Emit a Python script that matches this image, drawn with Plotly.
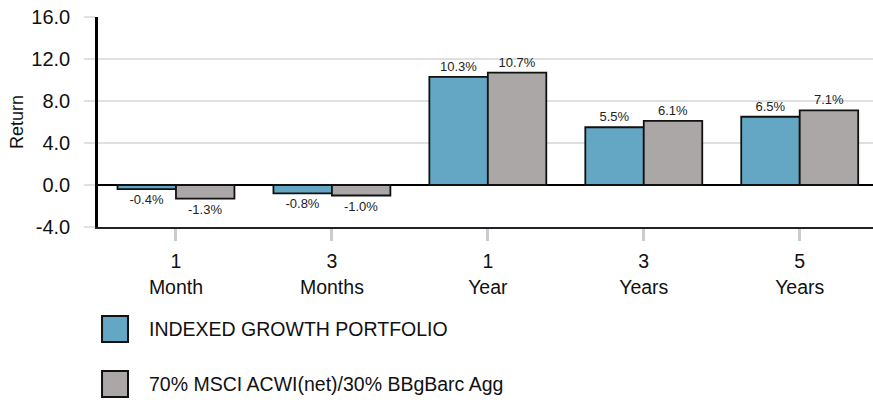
import plotly.graph_objects as go

categories = ["1<br>Month", "3<br>Months", "1<br>Year", "3<br>Years", "5<br>Years"]
series_names = ["INDEXED GROWTH PORTFOLIO", "70% MSCI ACWI(net)/30% BBgBarc Agg"]
portfolio = [-0.4, -0.8, 10.3, 5.5, 6.5]
benchmark = [-1.3, -1.0, 10.7, 6.1, 7.1]
y_ticks = [-4, 0, 4, 8, 12, 16]
y_tick_labels = ["-4.0", "0.0", "4.0", "8.0", "12.0", "16.0"]

colors = ["#63A7C4", "#ABA7A6"]
regular = "Liberation Sans, Arial"

fig = go.Figure()
for name, vals, col in zip(series_names, [portfolio, benchmark], colors):
    fig.add_trace(go.Bar(
        x=categories, y=vals, name=name,
        marker=dict(color=col, line=dict(color="#111111", width=1.8)),
        text=[f"{v:.1f}%" for v in vals], textposition="outside",
        textfont=dict(family=regular, size=13, color="#222222"),
        cliponaxis=False, showlegend=False,
    ))

# manual legend (large swatches)
leg_y = [-0.486, -0.748]
for name, col, yc in zip(series_names, colors, leg_y):
    fig.add_shape(type="rect", xref="paper", yref="paper",
                  x0=0.0052, x1=0.0387, y0=yc - 0.062, y1=yc + 0.062,
                  fillcolor=col, line=dict(color="#111111", width=2))
    fig.add_annotation(xref="paper", yref="paper", x=0.063, y=yc, text=name,
                       showarrow=False, xanchor="left", yanchor="middle",
                       font=dict(family=regular, size=19.5, color="#111111"))

fig.update_layout(
    width=873, height=404,
    margin=dict(l=98, r=0, t=17, b=177, autoexpand=False),
    plot_bgcolor="white", paper_bgcolor="white",
    barmode="group", bargap=0.25, bargroupgap=0,
    font=dict(family=regular, color="#111111"),
)
fig.update_xaxes(
    type="category", range=[-0.5, 4.47], automargin=False,
    showline=True, linecolor="#222222", linewidth=2,
    ticks="outside", ticklen=12, tickwidth=3, tickcolor="#C9CDD1",
    tickfont=dict(family=regular, size=19.5, color="#111111"),
    ticklabelstandoff=4,
    showgrid=False,
)
fig.update_yaxes(
    range=[-4, 16], tickvals=y_ticks, ticktext=y_tick_labels, automargin=False,
    showgrid=True, gridcolor="#E0E0E0", gridwidth=2,
    zeroline=True, zerolinecolor="#000000", zerolinewidth=2,
    showline=True, linecolor="#000000", linewidth=2.5,
    ticks="outside", ticklen=11, tickwidth=2, tickcolor="#E0E0E0",
    tickfont=dict(family=regular, size=20, color="#111111"),
    ticklabelstandoff=10,
    title=dict(text="Return", font=dict(family=regular, size=18, color="#111111"), standoff=4),
)
fig.write_html("out.html", config={"displayModeBar": False},
               post_script="document.body.style.margin='0';")
